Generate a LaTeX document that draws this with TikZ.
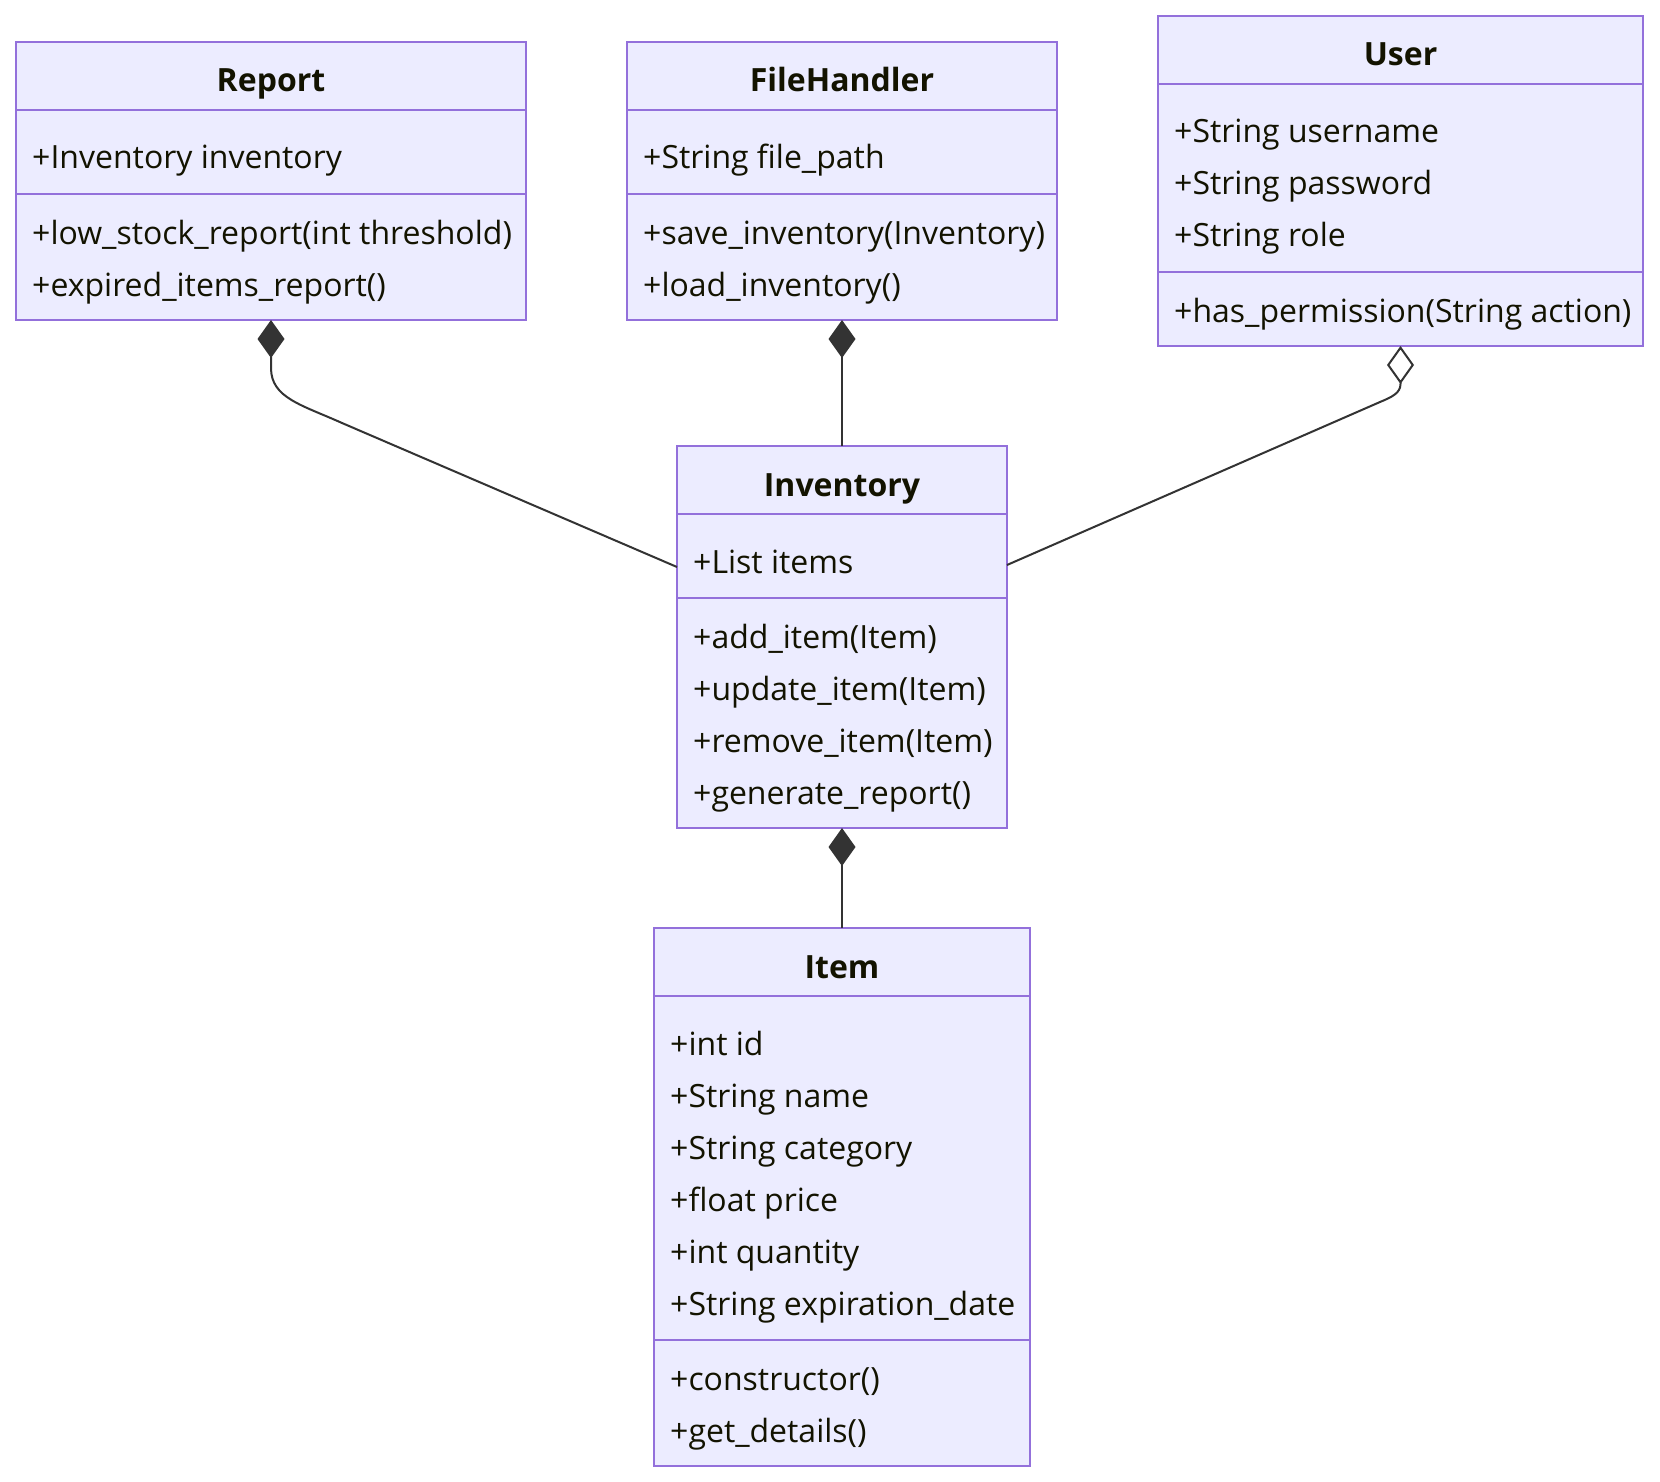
\documentclass[tikz,border=0pt]{standalone}
\usepackage{fontspec}
\setmainfont{Open Sans}
\usetikzlibrary{arrows.meta}

\definecolor{boxfill}{HTML}{ECECFF}
\definecolor{boxline}{HTML}{9370DB}
\definecolor{edgeline}{HTML}{333333}
\definecolor{ink}{HTML}{131300}

\tikzset{
  classbox/.style={rectangle, draw=boxline, fill=boxfill, line width=2pt, inner sep=0pt, outer sep=0pt},
  divider/.style={draw=boxline, line width=2pt},
  member/.style={text=ink, inner sep=0pt, anchor=base west, font=\fontsize{32}{38}\selectfont},
  classtitle/.style={text=ink, inner sep=0pt, anchor=base, font=\fontsize{32}{38}\selectfont\bfseries},
  link/.style={draw=edgeline, line width=2pt},
  composition/.style={link, {Diamond[length=38pt,width=27pt]}-},
  aggregation/.style={link, {Diamond[open,length=38pt,width=27pt,fill=white]}-},
}

% #1 id, #2 left, #3 top, #4 width, #5 attribute count, #6 method count,
% #7 class name, #8 attributes, #9 methods
\newcommand\umlclass[9]{%
  \pgfmathsetmacro\attrh{32+52*#5}%
  \pgfmathsetmacro\methh{22+52*#6}%
  \pgfmathsetmacro\totalh{68+\attrh+\methh}%
  \node[classbox, anchor=north west, minimum width=#4pt, minimum height=\totalh pt] (#1) at (#2,#3) {};
  \draw[divider] ([yshift=-68pt]#1.north west) -- ([yshift=-68pt]#1.north east);
  \draw[divider] ([yshift={-68-\attrh}]#1.north west) -- ([yshift={-68-\attrh}]#1.north east);
  \node[classtitle] (#1-title) at ([yshift=-50pt]#1.north) {#7};
  \foreach \s [count=\i] in {#8} {\node[member] (#1-attr\i) at ([xshift=16pt,yshift={-127-52*(\i-1)}]#1.north west) {\s};}
  \foreach \s [count=\i] in {#9} {\node[member] (#1-meth\i) at ([xshift=16pt,yshift={-118-\attrh-52*(\i-1)}]#1.north west) {\s};}
}

\begin{document}
\begin{tikzpicture}[x=1pt, y=-1pt]
  \useasboundingbox (0,0) rectangle (1660,1482);
  \fill[white] (0,0) rectangle (1660,1482);

  \umlclass{report}{16}{42}{510}{1}{2}{Report}
    {+Inventory inventory}
    {+low\_stock\_report(int threshold),+expired\_items\_report()}
  \umlclass{filehandler}{627}{42}{430}{1}{2}{FileHandler}
    {+String file\_path}
    {+save\_inventory(Inventory),+load\_inventory()}
  \umlclass{user}{1158}{16}{485}{3}{1}{User}
    {+String username,+String password,+String role}
    {+has\_permission(String action)}
  \umlclass{inventory}{677}{446}{330}{1}{4}{Inventory}
    {+List items}
    {+add\_item(Item),+update\_item(Item),+remove\_item(Item),+generate\_report()}
  \umlclass{item}{654}{928}{376}{6}{2}{Item}
    {+int id,+String name,+String category,+float price,+int quantity,+String expiration\_date}
    {+constructor(),+get\_details()}

  % relations
  \draw[composition] (report.south) -- (271,368)
    .. controls (271,398) and (302,405) .. (342,423)
    -- ([yshift=70pt]inventory.west);
  \draw[composition] (filehandler.south) -- (inventory.north);
  \draw[aggregation] (user.south) -- (1400.5,384)
    .. controls (1400.5,393) and (1392,397) .. (1380,402)
    -- ([yshift=72pt]inventory.east);
  \draw[composition] (inventory.south) -- (item.north);
\end{tikzpicture}
\end{document}
